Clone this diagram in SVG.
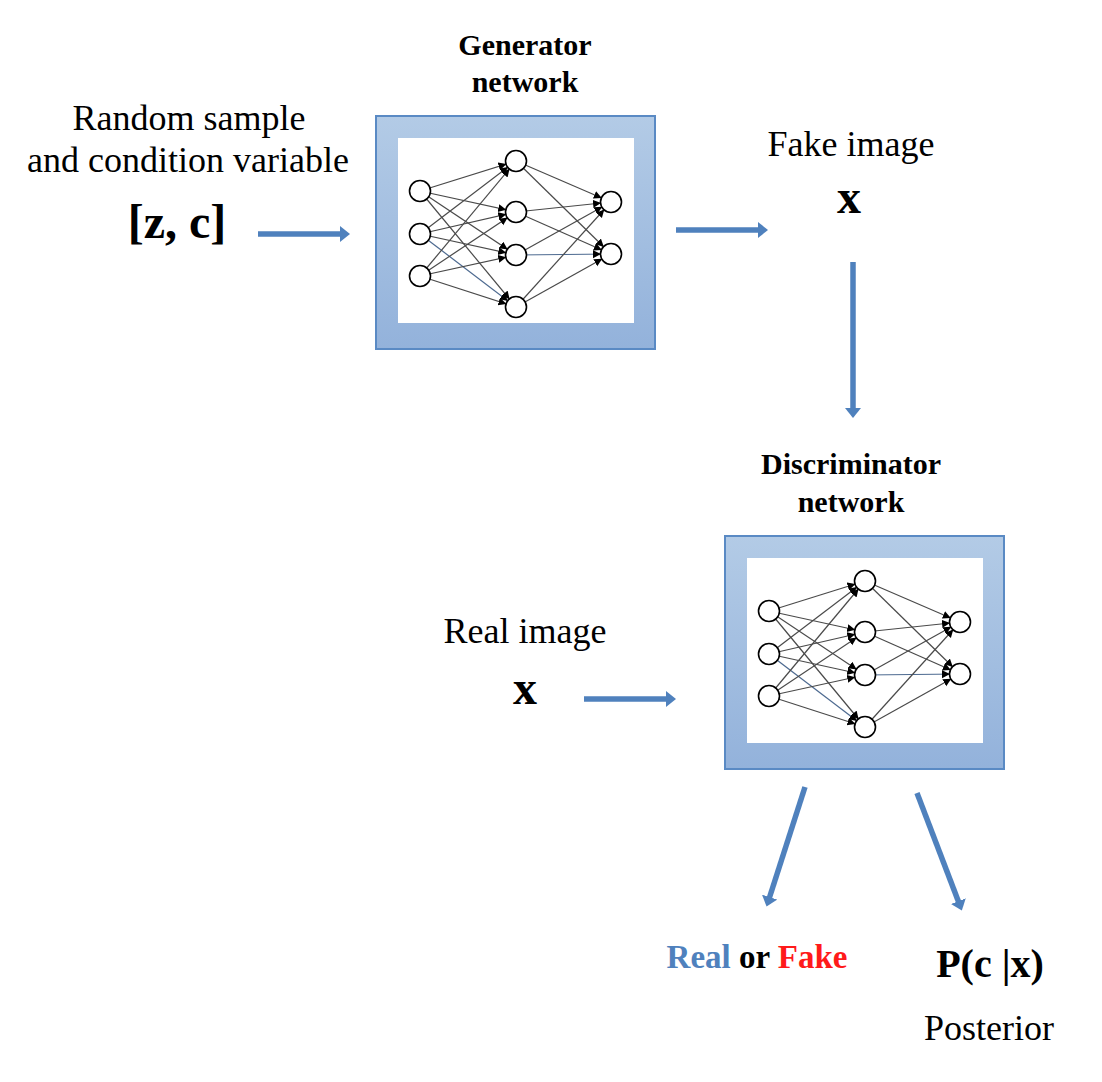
<svg xmlns="http://www.w3.org/2000/svg" xmlns:xlink="http://www.w3.org/1999/xlink" width="1102" height="1082" viewBox="0 0 1102 1082">
<style>
.reg{font-family:"Liberation Serif","Times New Roman",serif;font-size:36px;fill:#000;text-anchor:middle}
.bold{font-family:"Liberation Serif","Times New Roman",serif;font-weight:bold;fill:#000;text-anchor:middle}
.title{font-size:30px}
.edge{stroke:#4a4a4a;stroke-width:1.2;fill:none}
.edgeb{stroke:#4d6a90;stroke-width:1.2;fill:none}
.node{fill:#fff;stroke:#000;stroke-width:1.6}
.conn{stroke:#4f81bd;stroke-width:5.5;fill:none}
.frame{stroke:#5a8ac4;stroke-width:2}
</style>
<defs>
<linearGradient id="bg" x1="0" y1="0" x2="0" y2="1">
<stop offset="0" stop-color="#b3cbe6"/>
<stop offset="1" stop-color="#93b2db"/>
</linearGradient>
<marker id="nh" markerUnits="userSpaceOnUse" markerWidth="22" markerHeight="10" refX="18" refY="4" orient="auto">
<path d="M0,0 L8,4 L0,8 z" fill="#000"/>
</marker>
<marker id="ah" markerUnits="userSpaceOnUse" markerWidth="12" markerHeight="16" refX="2" refY="8" orient="auto">
<path d="M0,0 L10,8 L0,16 z" fill="#4f81bd"/>
</marker>
<g id="net">
<rect x="376" y="116" width="279" height="233" fill="url(#bg)" class="frame"/>
<rect x="398" y="138" width="236" height="185" fill="#fff"/>
<g marker-end="url(#nh)">
<line class="edge" x1="420" y1="191" x2="516" y2="161"/>
<line class="edge" x1="420" y1="191" x2="516" y2="212"/>
<line class="edge" x1="420" y1="191" x2="516" y2="255"/>
<line class="edge" x1="420" y1="191" x2="516" y2="307"/>
<line class="edge" x1="420" y1="234" x2="516" y2="161"/>
<line class="edge" x1="420" y1="234" x2="516" y2="212"/>
<line class="edge" x1="420" y1="234" x2="516" y2="255"/>
<line class="edgeb" x1="420" y1="234" x2="516" y2="307"/>
<line class="edge" x1="420" y1="276" x2="516" y2="161"/>
<line class="edge" x1="420" y1="276" x2="516" y2="212"/>
<line class="edge" x1="420" y1="276" x2="516" y2="255"/>
<line class="edge" x1="420" y1="276" x2="516" y2="307"/>
<line class="edge" x1="516" y1="161" x2="611" y2="202"/>
<line class="edge" x1="516" y1="161" x2="611" y2="254"/>
<line class="edge" x1="516" y1="212" x2="611" y2="202"/>
<line class="edge" x1="516" y1="212" x2="611" y2="254"/>
<line class="edge" x1="516" y1="255" x2="611" y2="202"/>
<line class="edgeb" x1="516" y1="255" x2="611" y2="254"/>
<line class="edge" x1="516" y1="307" x2="611" y2="202"/>
<line class="edge" x1="516" y1="307" x2="611" y2="254"/>
</g>
<circle class="node" cx="420" cy="191" r="10.5"/>
<circle class="node" cx="420" cy="234" r="10.5"/>
<circle class="node" cx="420" cy="276" r="10.5"/>
<circle class="node" cx="516" cy="161" r="10.5"/>
<circle class="node" cx="516" cy="212" r="10.5"/>
<circle class="node" cx="516" cy="255" r="10.5"/>
<circle class="node" cx="516" cy="307" r="10.5"/>
<circle class="node" cx="611" cy="202" r="10.5"/>
<circle class="node" cx="611" cy="254" r="10.5"/>
</g>
</defs>
<rect width="1102" height="1082" fill="#fff"/>

<g id="input">
<text class="reg" x="189" y="130">Random sample</text>
<text class="reg" x="188" y="172">and condition variable</text>
<text class="bold" x="177" y="238" font-size="48">[z, c]</text>
</g>

<g id="generator">
<text class="bold title" x="525" y="55">Generator</text>
<text class="bold title" x="525" y="92">network</text>
<use xlink:href="#net"/>
</g>

<g id="fake-image">
<text class="reg" x="851" y="156">Fake image</text>
<text class="bold" x="849" y="213" font-size="48">x</text>
</g>

<g id="discriminator">
<text class="bold title" x="851" y="474">Discriminator</text>
<text class="bold title" x="851" y="512">network</text>
<use xlink:href="#net" transform="translate(349,420)"/>
</g>

<g id="real-image">
<text class="reg" x="525" y="643">Real image</text>
<text class="bold" x="525" y="704" font-size="48">x</text>
</g>

<g id="real-or-fake">
<text class="bold" x="757" y="968" font-size="33"><tspan fill="#4f81bd">Real</tspan> or <tspan fill="#ff1a1a">Fake</tspan></text>
</g>

<g id="posterior">
<text class="bold" x="990" y="977" font-size="40">P(c |x)</text>
<text class="reg" x="989" y="1040">Posterior</text>
</g>

<g id="connectors" marker-end="url(#ah)">
<line class="conn" x1="258" y1="234" x2="342" y2="234"/>
<line class="conn" x1="676" y1="230" x2="760" y2="230"/>
<line class="conn" x1="853" y1="262" x2="853" y2="410"/>
<line class="conn" x1="584" y1="699" x2="668" y2="699"/>
<line class="conn" x1="805" y1="787" x2="769" y2="899"/>
<line class="conn" x1="917" y1="793" x2="959" y2="903"/>
</g>
</svg>
